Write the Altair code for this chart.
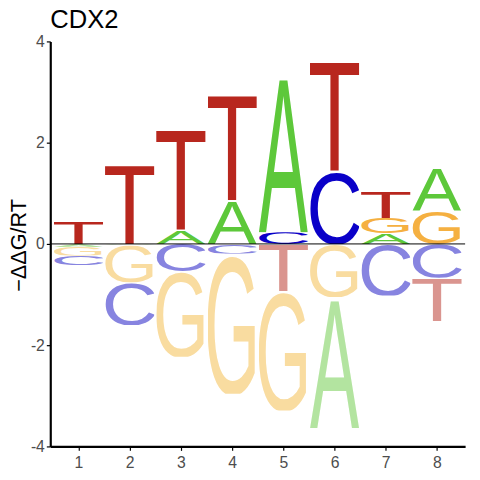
import base64
import altair as alt
import pandas as pd

# ---- data ----
positions = [1, 2, 3, 4, 5, 6, 7, 8]
A_vals = [-0.06, -0.03, 0.27, 0.87, 3.12, -2.59, 0.21, 0.87]
C_vals = [-0.19, -0.84, -0.54, -0.19, 0.23, 1.44, -1.02, -0.67]
G_vals = [-0.17, -0.73, -1.69, -2.77, -2.36, -1.05, 0.30, 0.66]
T_vals = [0.45, 1.59, 2.01, 2.13, -0.93, 2.21, 0.53, -0.86]
y_ticks = [-4, -2, 0, 2, 4]

# ---- styles ----
pos_colors = {"A": "#5DC83A", "C": "#0A00C8", "G": "#F5B041", "T": "#B8271E"}
neg_colors = {"A": "#B3E4A0", "C": "#8784E0", "G": "#F9DCA0", "T": "#DA958F"}
# horizontal offset/stretch so the glyph (not its advance box) fills the cell
glyph_fit = {"A": (0, 100), "C": (-7, 114), "G": (-7, 114), "T": (-5, 110)}


def letter_url(letter, color):
    x0, tl = glyph_fit[letter]
    svg = (
        '<svg xmlns="http://www.w3.org/2000/svg" width="100" height="100" '
        'viewBox="0 0 100 100" preserveAspectRatio="none">'
        f'<text x="{x0}" y="100" font-family="Liberation Sans, Arial, sans-serif" '
        f'font-size="140" textLength="{tl}" lengthAdjust="spacingAndGlyphs" '
        f'fill="{color}">{letter}</text></svg>'
    )
    return "data:image/svg+xml;base64," + base64.b64encode(svg.encode()).decode()


rows = []
for letter, vals in (("A", A_vals), ("C", C_vals), ("G", G_vals), ("T", T_vals)):
    for p, v in zip(positions, vals):
        col = pos_colors[letter] if v >= 0 else neg_colors[letter]
        rows.append({"pos": p, "letter": letter, "value": v, "url": letter_url(letter, col)})
df = pd.DataFrame(rows)

xscale = alt.Scale(domain=[0.45, 8.55], nice=False, zero=False)
yscale = alt.Scale(domain=[-4, 4], nice=False)

letters = (
    alt.Chart(df)
    .transform_calculate(absv="abs(datum.value)", sgn="datum.value >= 0 ? 1 : -1")
    .transform_window(
        cum="sum(absv)",
        groupby=["pos", "sgn"],
        sort=[alt.SortField("absv", order="ascending")],
        frame=[None, 0],
    )
    .transform_calculate(
        ya="datum.sgn * (datum.cum - datum.absv)",
        yb="datum.sgn * datum.cum",
        xa="datum.pos - 0.48",
        xb="datum.pos + 0.48",
    )
    .mark_image(aspect=False)
    .encode(
        x=alt.X(
            "xa:Q",
            scale=xscale,
            axis=alt.Axis(
                values=positions,
                title=None,
                grid=False,
                domainColor="black",
                domainWidth=2.2,
                tickColor="black",
                tickSize=4,
                tickWidth=1.2,
                labelFontSize=16,
                labelColor="#4D4D4D",
                labelFont="Liberation Sans",
                labelPadding=4,
                labelFlush=False,
            ),
        ),
        x2="xb:Q",
        y=alt.Y(
            "ya:Q",
            scale=yscale,
            axis=alt.Axis(
                values=y_ticks,
                title="−ΔΔG/RT",
                titleFont="Liberation Sans",
                titleFontSize=22,
                titleFontWeight="normal",
                titleColor="black",
                titleAngle=270,
                titleBaseline="middle",
                titleAlign="center",
                titleX=-32,
                titleY=207,
                grid=False,
                domainColor="black",
                domainWidth=2.2,
                tickColor="black",
                tickSize=4,
                tickWidth=1.2,
                labelFontSize=16,
                labelColor="#4D4D4D",
                labelFont="Liberation Sans",
                labelPadding=2,
                labelFlush=False,
                labelExpr="'' + datum.value",
            ),
        ),
        y2="yb:Q",
        url="url:N",
    )
)

zero = (
    alt.Chart(pd.DataFrame({"z": [0]}))
    .mark_rule(color="black", strokeWidth=1)
    .encode(y=alt.Y("z:Q", scale=yscale))
)

chart = (
    alt.layer(letters, zero)
    .properties(
        width=422,
        height=412,
        title=alt.TitleParams(
            "CDX2",
            anchor="start",
            frame="group",
            font="Liberation Sans",
            fontSize=26,
            fontWeight="normal",
            color="black",
            offset=0,
            dy=-1,
        ),
        autosize=alt.AutoSizeParams(type="none"),
        padding={"left": 43, "top": 30, "right": 7, "bottom": 22},
    )
    .configure_view(stroke=None)
)

chart.save("out.html", embed_options={"renderer": "svg", "actions": False})
